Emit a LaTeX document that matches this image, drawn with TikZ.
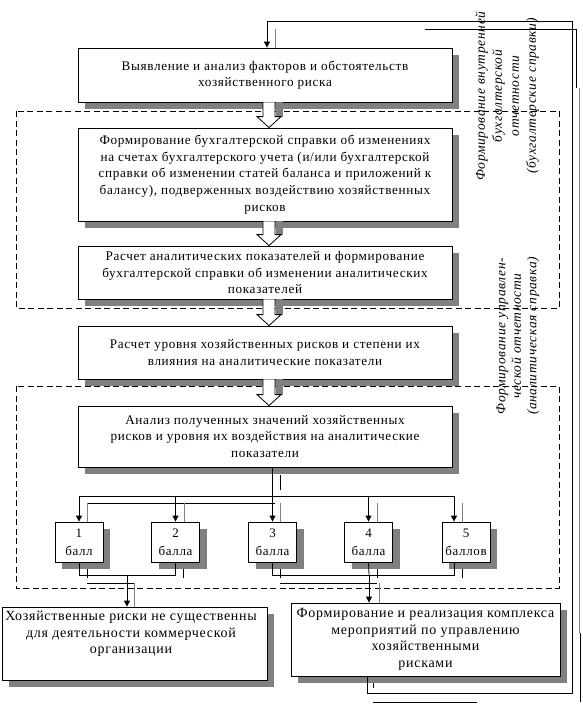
\documentclass[tikz,border=0pt]{standalone}
\usepackage{fontspec}
\setmainfont{Liberation Serif}[LetterSpace=5]
\usetikzlibrary{arrows.meta,shadows,calc}
\definecolor{shad}{HTML}{808080}
\newcommand\blockarr[2]{%
  \fill[shad] let \p1=(#1.south), \p2=(#2.north) in (\x1+11pt,\y1) rectangle (\x1+18pt,\y2+11pt);
  \fill[white] let \p1=(#1.south), \p2=(#2.north) in (\x1-2pt,\y1) -- (\x1+10pt,\y1) -- (\x1+10pt,\y2+11pt) -- (\x1+16pt,\y2+11pt) -- (\x1+4pt,\y2) -- (\x1-8pt,\y2+11pt) -- (\x1-2pt,\y2+11pt) -- cycle;
  \draw[line] let \p1=(#1.south), \p2=(#2.north) in (\x1-2pt,\y1) -- (\x1-2pt,\y2+11pt) -- (\x1-8pt,\y2+11pt) -- (\x1+4pt,\y2) -- (\x1+16pt,\y2+11pt) -- (\x1+10pt,\y2+11pt) -- (\x1+10pt,\y1);
}
\begin{document}
\begin{tikzpicture}[x=1pt,y=-1pt,
  line/.style={line width=0.8pt},
  ghost/.style={line width=0.8pt,draw=shad},
  arr/.style={line width=0.8pt,-{Triangle[length=6pt,width=6pt]}},
  dsh/.style={line width=0.8pt,dash pattern=on 6pt off 3.5pt},
  box/.style={draw,line width=0.8pt,fill=white,align=center,inner sep=1pt,
    font=\fontsize{13.2}{16.6}\selectfont,
    drop shadow={shadow xshift=7pt,shadow yshift=-7pt,fill=shad,opacity=1}},
  mainbox/.style={box,minimum width=374pt},
  ptbox/.style={box,minimum width=48pt,minimum height=40pt,font=\fontsize{13}{18}\selectfont},
  endbox/.style={box,font=\fontsize{14}{16.5}\selectfont},
  txt/.style={align=center,inner sep=0pt,font=\fontsize{14}{16.5}\selectfont},
  rot/.style={align=center,inner sep=0pt,rotate=90,font=\fontsize{13.5}{17}\selectfont\itshape}]
\useasboundingbox (0,0) rectangle (583,704);
\fill[white] (0,0) rectangle (583,704);
% dashed groups
\draw[dsh] (16,111) rectangle (559,308);
\draw[dsh] (16,386) rectangle (559,588);
% rotated labels
\node[rot] (t1) at (507,96) {Формирование внутренней\\бухгалтерской\\отчетности\\(бухгалтерские справки)};
\node[rot,font=\fontsize{13.5}{15.5}\selectfont\itshape] (t2) at (518,336) {Формирование управлен-\\ческой отчетности\\(аналитическая справка)};
% main boxes
\node[mainbox,minimum height=54pt] (b1) at (265,75) {Выявление и анализ факторов и обстоятельств\\хозяйственного риска};
\node[mainbox,minimum height=93pt] (b2) at (265,174.5) {Формирование бухгалтерской справки об изменениях\\на счетах бухгалтерского учета (и/или бухгалтерской\\справки об изменении статей баланса и приложений к\\балансу), подверженных воздействию хозяйственных\\рисков};
\node[mainbox,minimum height=53pt] (b3) at (265,272.5) {Расчет аналитических показателей и формирование\\бухгалтерской справки об изменении аналитических\\показателей};
\node[mainbox,minimum height=53pt] (b4) at (265,352.5) {Расчет уровня хозяйственных рисков и степени их\\влияния на аналитические показатели};
\node[mainbox,minimum height=61pt] (b5) at (265,436.5) {Анализ полученных значений хозяйственных\\рисков и уровня их воздействия на аналитические\\показатели};
% block arrows
\blockarr{b1}{b2}
\blockarr{b2}{b3}
\blockarr{b3}{b4}
\blockarr{b4}{b5}
% point boxes
\node[ptbox] (p1) at (79,542) {1\\балл};
\node[ptbox] (p2) at (175.5,542) {2\\балла};
\node[ptbox] (p3) at (272.5,542) {3\\балла};
\node[ptbox] (p4) at (368.5,542) {4\\балла};
\node[ptbox] (p5) at (466,542) {5\\баллов};
% outcome boxes
\node[endbox,minimum width=265pt,minimum height=73pt] (L) at (134.5,643.5) {};
\node[txt] (Lt) at (131,634) {Хозяйственные риски не существенны\\для деятельности коммерческой\\организации};
\node[endbox,minimum width=269pt,minimum height=73pt] (R) at (425.5,639.5) {Формирование и реализация комплекса\\мероприятий по управлению\\хозяйственными\\рисками};
% bus to point boxes
\coordinate (bus) at (272,496);
\coordinate (busR) at (454,496);
\draw[line] (b5.south -| bus) -- (bus);
\draw[line] (p1.north |- bus) -- (busR);
\foreach \p in {p1,p2,p3,p4} \draw[arr] (\p.north |- bus) -- (\p.north);
\draw[arr] (busR) -- ([xshift=-12pt]p5.north);
% ghost lines near bus
\draw[line] (280,475) -- (280,490);
\draw[line] (87,503) -- (275,503);
\foreach \gx in {87,184,280,377,462} \draw[ghost] (\gx,503) -- (\gx,522);
% joins below point boxes
\coordinate (jl) at (127,575);
\coordinate (jr) at (369,575);
\draw[line] (p1.south) |- (p2.south |- jl) -- (p2.south);
\draw[arr] (jl) -- (L.north -| jl);
\draw[line] (p3.south) |- ([xshift=-12pt]p5.south |- jr) -- ([xshift=-12pt]p5.south);
\draw[line] (p4.south) -- (jr);
\draw[arr] (jr) -- (R.north -| jr);
% ghost lines below point boxes
\foreach \gx in {87,183,280,377,462} \draw[line] (\gx,569) -- (\gx,578);
\draw[line] (87,583) -- (134,583);
\draw[line] (280,583) -- (377,583);
\draw[ghost] (134,583) -- (L.north -| 134,0);
\draw[ghost] (379,583) -- (R.north -| 379,0);
% feedback loop
\coordinate (fb1) at (367,693);
\coordinate (fb2) at (572,693);
\coordinate (fb3) at (572,21);
\coordinate (fb4) at (267,21);
\draw[arr] (R.south -| fb1) -- (fb1) -- (fb2) -- (fb3) -- (fb4) -- (b1.north -| fb4);
% ghost loop lines
\draw[ghost] (275,29) -- (b1.north -| 275,0);
\draw[line] (425,29) -| (576,88);
\draw[ghost] (579,88) -- (579,633);
\draw[line] (580,633) -- (580,702);
\draw[line] (373,683) -- (373,688);
\draw[line] (373,702) -- (477,702);
\end{tikzpicture}
\end{document}
